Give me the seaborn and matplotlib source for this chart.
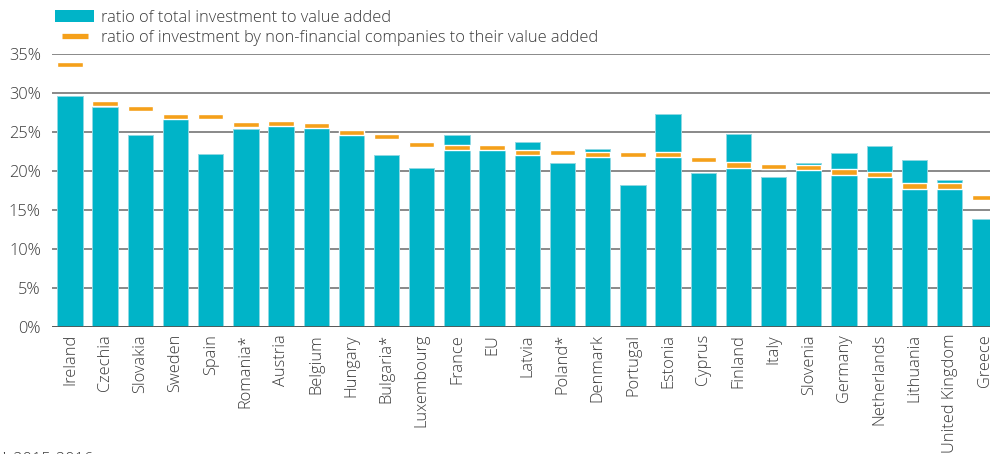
import matplotlib
matplotlib.use("Agg")
import matplotlib.pyplot as plt
from matplotlib.patches import Patch
from matplotlib.lines import Line2D
import numpy as np
import pandas as pd
import seaborn as sns

countries = ["Ireland", "Czechia", "Slovakia", "Sweden", "Spain", "Romania*", "Austria",
             "Belgium", "Hungary", "Bulgaria*", "Luxembourg", "France", "EU", "Latvia",
             "Poland*", "Denmark", "Portugal", "Estonia", "Cyprus", "Finland", "Italy",
             "Slovenia", "Germany", "Netherlands", "Lithuania", "United Kingdom", "Greece"]
total_inv = [29.6, 28.2, 24.7, 26.7, 22.2, 25.4, 25.8, 25.6, 25.3, 22.1, 20.4, 24.6, 22.8,
             23.8, 21.0, 22.9, 18.2, 27.35, 19.8, 24.8, 19.2, 21.1, 22.3, 23.2, 21.5, 18.9, 13.9]
nfc_inv = [33.7, 28.65, 28.1, 27.0, 27.0, 26.0, 26.1, 25.9, 25.0, 24.4, 23.4, 23.1, 23.0,
           22.4, 22.4, 22.2, 22.2, 22.2, 21.5, 20.8, 20.6, 20.45, 19.9, 19.55, 18.1, 18.1, 16.6]

df = pd.DataFrame({"country": countries, "total": total_inv, "nfc": nfc_inv})

teal = "#00B4C8"
orange = "#F5A01A"
text_col = "#3a3a3a"
fsize = 11.8

sns.set_style("white")
plt.rcParams["font.family"] = ["Open Sans", "DejaVu Sans"]
plt.rcParams["font.weight"] = "light"

fig = plt.figure(figsize=(9.9, 4.54), dpi=100)
ax = fig.add_axes([52 / 990, (454 - 327) / 454, 1 - 52 / 990, 273 / 454])

sns.barplot(data=df, x="country", y="total", color=teal, saturation=1, width=0.72,
            edgecolor="#8fd8e2", linewidth=0.7, ax=ax, zorder=2)

# orange markers drawn as thin bars centred on the value
pos = np.arange(len(df))
ax.bar(pos, 0.65, bottom=df["nfc"] - 0.325, width=0.72, color=orange, zorder=3)

ax.set_ylim(0, 35.05)
ax.set_xlim(-0.51, 26.15)
ax.set_yticks(range(0, 36, 5))
ax.set_yticklabels([f"{v}%" for v in range(0, 36, 5)])
ax.grid(axis="y", color="#808080", linewidth=1.3, zorder=0)
ax.set_axisbelow(True)
for s in ["top", "right", "left", "bottom"]:
    ax.spines[s].set_visible(False)
ax.axhline(0, color="#555555", linewidth=2, zorder=4)
ax.set_xlabel("")
ax.set_ylabel("")
ax.tick_params(axis="both", length=0, labelsize=fsize, colors=text_col)
ax.tick_params(axis="y", pad=8)
ax.tick_params(axis="x", pad=5)
plt.setp(ax.get_xticklabels(), rotation=90)

handles = [Patch(facecolor=teal, edgecolor="none"),
           Line2D([], [], color=orange, marker="_", markersize=19, markeredgewidth=3.8,
                  linestyle="none")]
labels = ["ratio of total investment to value added",
          "ratio of investment by non-financial companies to their value added"]
fig.legend(handles, labels, loc="upper left", bbox_to_anchor=(55 / 990, 1 - 10 / 454),
           frameon=False, fontsize=fsize, handlelength=2.4, handleheight=0.75,
           handletextpad=0.38, labelspacing=0.24, borderpad=0, borderaxespad=0,
           labelcolor=text_col)

fig.text(0.0, 2 / 454, "* 2015-2016", fontsize=fsize, color=text_col, va="top", ha="left")

fig.savefig("out.png", dpi=100)
